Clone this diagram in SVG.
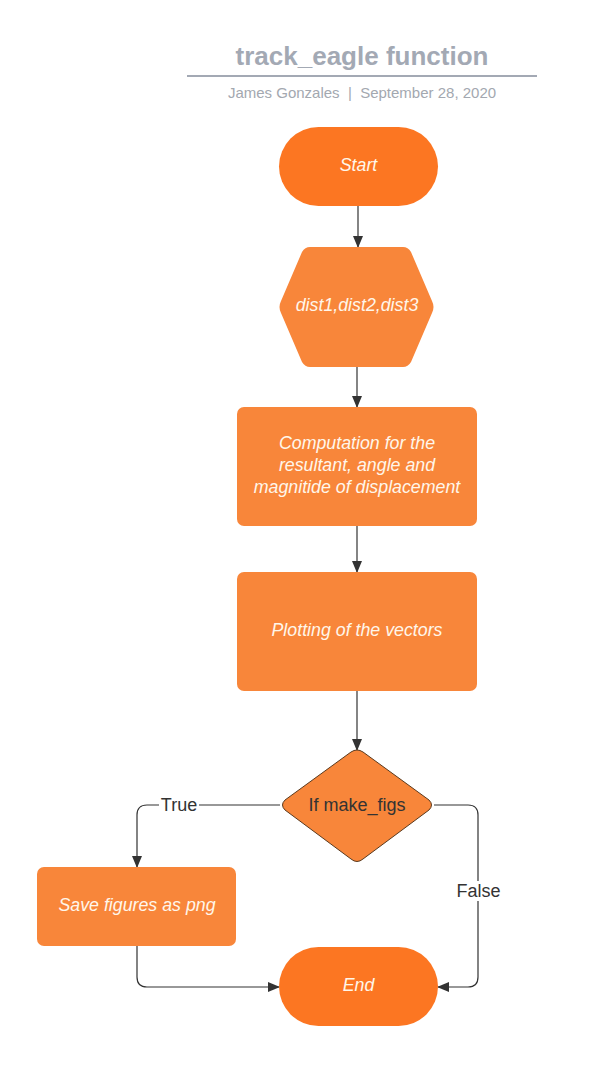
<svg xmlns="http://www.w3.org/2000/svg" width="607" height="1070" viewBox="0 0 607 1070">
<style>
.term{fill:#fc7622}
.proc{fill:#f8863a}
.lbl{font-family:"Liberation Sans",Arial,sans-serif;font-size:17.8px;font-style:italic;fill:#fff6ea;text-anchor:middle;dominant-baseline:central}
.dark{font-family:"Liberation Sans",Arial,sans-serif;font-size:18px;fill:#333333;text-anchor:middle;dominant-baseline:central}
.conn{fill:none;stroke:#333333;stroke-width:1.2}
</style>
<defs>
<marker id="ah" markerWidth="12" markerHeight="10" refX="11" refY="5" orient="auto" markerUnits="userSpaceOnUse">
<path d="M0,0 L12,5 L0,10 Z" fill="#333333"/>
</marker>
</defs>
<rect width="607" height="1070" fill="#ffffff"/>
<g id="title">
<text x="362" y="65" font-family="Liberation Sans,Arial,sans-serif" font-size="26" font-weight="bold" fill="#a3a9b4" text-anchor="middle">track_eagle function</text>
<line x1="187" y1="76" x2="537" y2="76" stroke="#a3a9b4" stroke-width="2"/>
<text x="362" y="98" font-family="Liberation Sans,Arial,sans-serif" font-size="15" fill="#a3a8b0" text-anchor="middle" xml:space="preserve">James Gonzales  |  September 28, 2020</text>
</g>
<g id="connectors">
<line class="conn" x1="358" y1="206" x2="358" y2="247" marker-end="url(#ah)"/>
<line class="conn" x1="357" y1="367" x2="357" y2="407" marker-end="url(#ah)"/>
<line class="conn" x1="357" y1="526" x2="357" y2="572" marker-end="url(#ah)"/>
<line class="conn" x1="357" y1="691" x2="357" y2="750" marker-end="url(#ah)"/>
<path class="conn" d="M280,805 H147 Q137,805 137,815 V867" marker-end="url(#ah)"/>
<path class="conn" d="M434,805 H468 Q478,805 478,815 V977 Q478,987 468,987 H438" marker-end="url(#ah)"/>
<path class="conn" d="M137,946 V977 Q137,987 147,987 H279" marker-end="url(#ah)"/>
<rect x="159" y="795" width="40" height="20" fill="#ffffff"/>
<text class="dark" x="179" y="805">True</text>
<rect x="455" y="881" width="47" height="20" fill="#ffffff"/>
<text class="dark" x="478.5" y="891">False</text>
</g>
<g id="start">
<rect class="term" x="279" y="127" width="159" height="79" rx="39.5"/>
<text class="lbl" x="358.5" y="165">Start</text>
</g>
<g id="input">
<path class="proc" d="M310,247 H403 Q408,247 411,252 L432,301 Q435,307 432,313 L411,362 Q408,367 403,367 H310 Q305,367 302,362 L281,313 Q278,307 281,301 L302,252 Q305,247 310,247 Z"/>
<text class="lbl" x="357" y="305">dist1,dist2,dist3</text>
</g>
<g id="compute">
<rect class="proc" x="237" y="407" width="240" height="119" rx="7"/>
<text class="lbl" x="357" y="443">Computation for the</text>
<text class="lbl" x="357" y="465">resultant, angle and</text>
<text class="lbl" x="357" y="487">magnitide of displacement</text>
</g>
<g id="plot">
<rect class="proc" x="237" y="572" width="240" height="119" rx="7"/>
<text class="lbl" x="357" y="630">Plotting of the vectors</text>
</g>
<g id="decision">
<path class="proc" stroke="#5a3a1e" stroke-width="1" d="M351,752 Q357,748 363,752 L429,800 Q434,805 429,810 L363,859 Q357,864 351,859 L285,810 Q280,805 285,800 Z"/>
<text class="dark" x="357" y="805">If make_figs</text>
</g>
<g id="save">
<rect class="proc" x="37" y="867" width="199" height="79" rx="7"/>
<text class="lbl" x="137" y="905">Save figures as png</text>
</g>
<g id="end">
<rect class="term" x="279" y="947" width="159" height="79" rx="39.5"/>
<text class="lbl" x="358.5" y="985">End</text>
</g>
</svg>
